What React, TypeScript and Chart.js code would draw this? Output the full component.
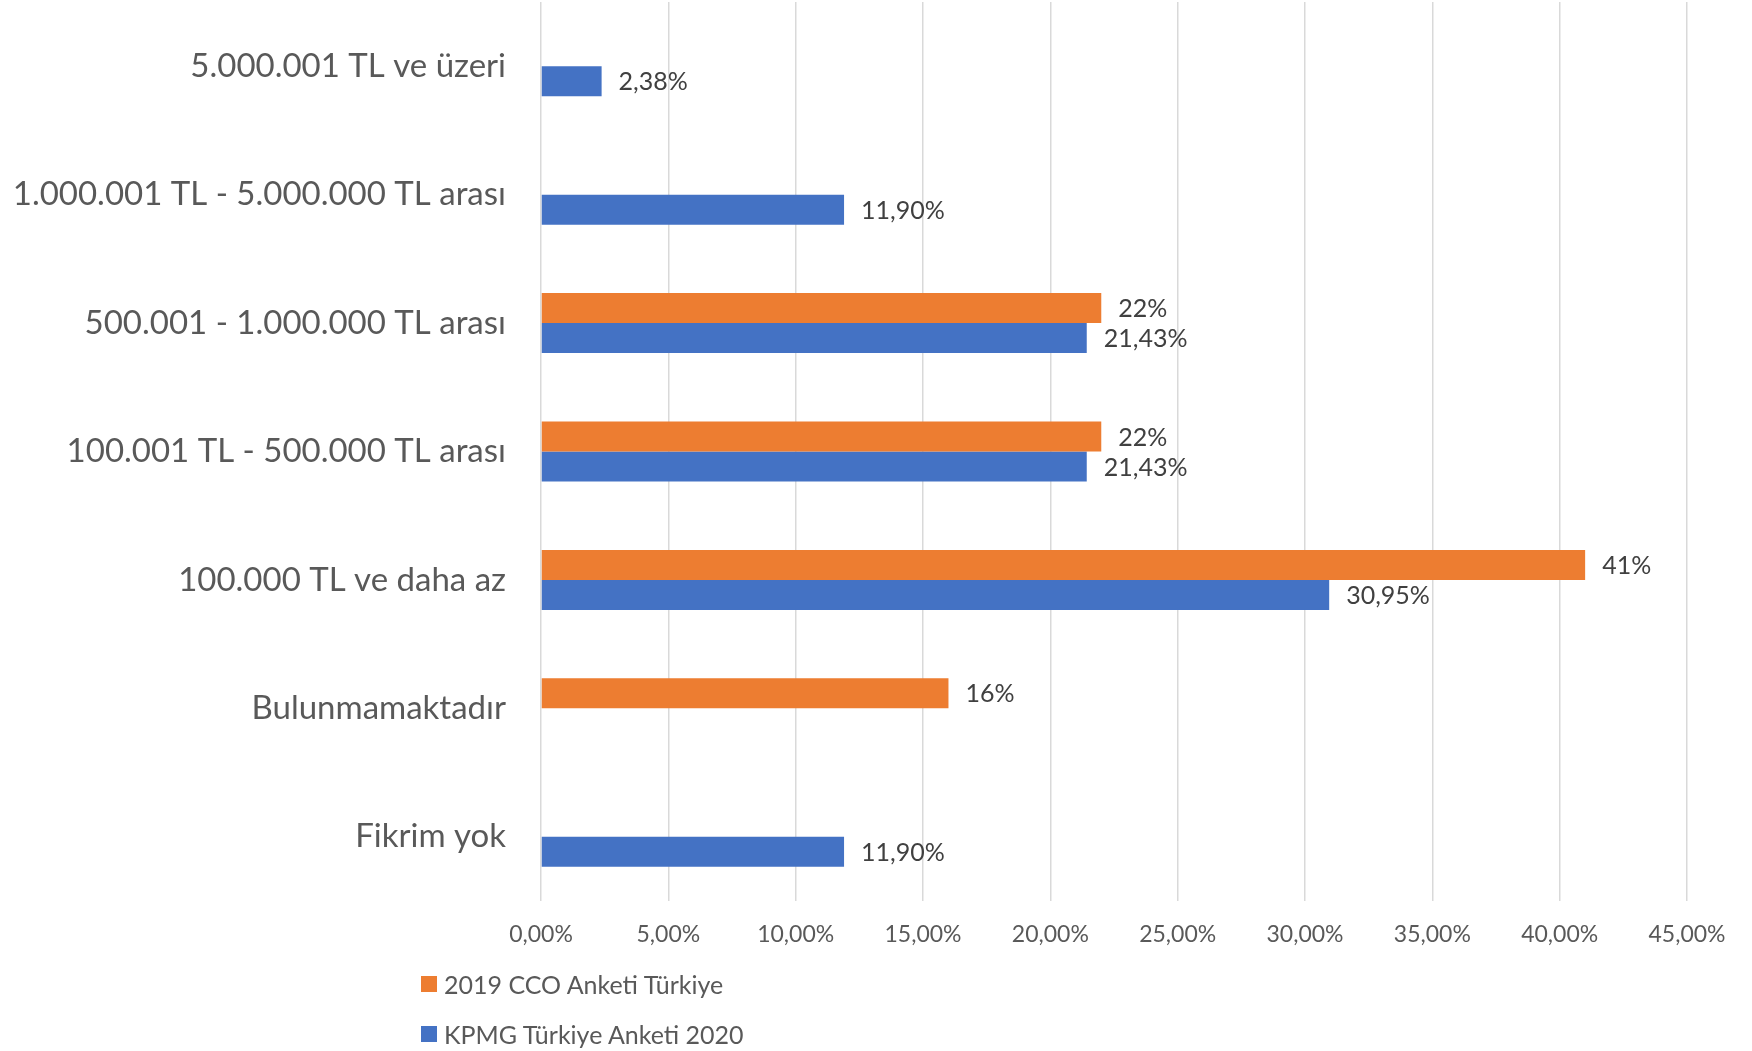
import React, { useEffect, useRef } from "react";
import { Chart, registerables } from "chart.js";

Chart.register(...registerables);

const categories = [
  "5.000.001 TL ve üzeri",
  "1.000.001 TL - 5.000.000 TL arası",
  "500.001 - 1.000.000 TL arası",
  "100.001 TL - 500.000 TL arası",
  "100.000 TL ve daha az",
  "Bulunmamaktadır",
  "Fikrim yok",
];
const ccoLabel = "2019 CCO Anketi Türkiye";
const kpmgLabel = "KPMG Türkiye Anketi 2020";
const ccoValues: (number | null)[] = [null, null, 22, 22, 41, 16, null];
const kpmgValues: (number | null)[] = [2.38, 11.9, 21.43, 21.43, 30.95, null, 11.9];
const xTicks = [0, 5, 10, 15, 20, 25, 30, 35, 40, 45];

const ORANGE = "#ED7D31";
const BLUE = "#4472C4";
const FONT = "Lato, 'Open Sans', sans-serif";

const fmt = (v: number, decimals: number) => v.toFixed(decimals).replace(".", ",") + "%";

const dataLabelPlugin = {
  id: "dataLabels",
  afterDatasetsDraw(chart: any) {
    const ctx = chart.ctx;
    ctx.save();
    ctx.font = `25px ${FONT}`;
    ctx.fillStyle = "#404040";
    ctx.textBaseline = "middle";
    ctx.textAlign = "left";
    chart.data.datasets.forEach((ds: any, di: number) => {
      const meta = chart.getDatasetMeta(di);
      meta.data.forEach((el: any, i: number) => {
        const v = ds.data[i];
        if (v === null || v === undefined) return;
        ctx.fillText(fmt(v, ds.decimals), el.x + 17, el.y + 1);
      });
    });
    ctx.restore();
  },
};

export default function App() {
  const ref = useRef<HTMLCanvasElement>(null);
  useEffect(() => {
    if (!ref.current) return;
    const chart = new Chart(ref.current, {
      type: "bar",
      data: {
        labels: categories,
        datasets: [
          {
            label: ccoLabel,
            data: ccoValues,
            backgroundColor: ORANGE,
            categoryPercentage: 0.467,
            barPercentage: 1,
            decimals: 0,
          } as any,
          {
            label: kpmgLabel,
            data: kpmgValues,
            backgroundColor: BLUE,
            categoryPercentage: 0.467,
            barPercentage: 1,
            decimals: 2,
          } as any,
        ],
      },
      options: {
        indexAxis: "y",
        animation: false,
        responsive: false,
        maintainAspectRatio: false,
        layout: { padding: { left: 0, right: 65, top: 2, bottom: 0 } },
        plugins: { legend: { display: false }, tooltip: { enabled: false } },
        scales: {
          x: {
            min: 0,
            max: 45,
            afterBuildTicks: (s: any) => {
              s.ticks = xTicks.map((v) => ({ value: v }));
            },
            afterFit: (s: any) => {
              s.height = 1051 - 901;
              s.paddingLeft = 0;
            },
            grid: { color: "#D9D9D9", lineWidth: 1.5, drawTicks: false },
            border: { display: false },
            ticks: {
              padding: 20,
              color: "#595959",
              font: { family: FONT, size: 23 },
              callback: (v: any) => fmt(Number(v), 2),
            },
          },
          y: {
            afterFit: (s: any) => {
              s.width = 541;
              s.paddingTop = 0;
              s.paddingBottom = 0;
            },
            grid: { display: false, drawTicks: false },
            border: { display: false },
            ticks: {
              padding: 35,
              color: "#595959",
              font: { family: FONT, size: 33 },
            },
          },
        },
      },
      plugins: [dataLabelPlugin],
    });
    return () => chart.destroy();
  }, []);

  const legendItem = (color: string, text: string, top: number) => (
    <div
      style={{
        position: "absolute",
        left: 421,
        top,
        display: "flex",
        alignItems: "center",
        fontFamily: FONT,
        fontSize: 25,
        color: "#595959",
        whiteSpace: "nowrap",
      }}
    >
      <span style={{ display: "inline-block", width: 16, height: 16, background: color, marginRight: 7 }} />
      <span>{text}</span>
    </div>
  );

  return (
    <div style={{ position: "fixed", left: 0, top: 0, width: 1752, height: 1051, background: "#fff" }}>
      <canvas ref={ref} width={1752} height={1051} style={{ position: "absolute", left: 0, top: 0 }} />
      {legendItem(ORANGE, ccoLabel, 985 - 16)}
      {legendItem(BLUE, kpmgLabel, 1035 - 16)}
    </div>
  );
}
